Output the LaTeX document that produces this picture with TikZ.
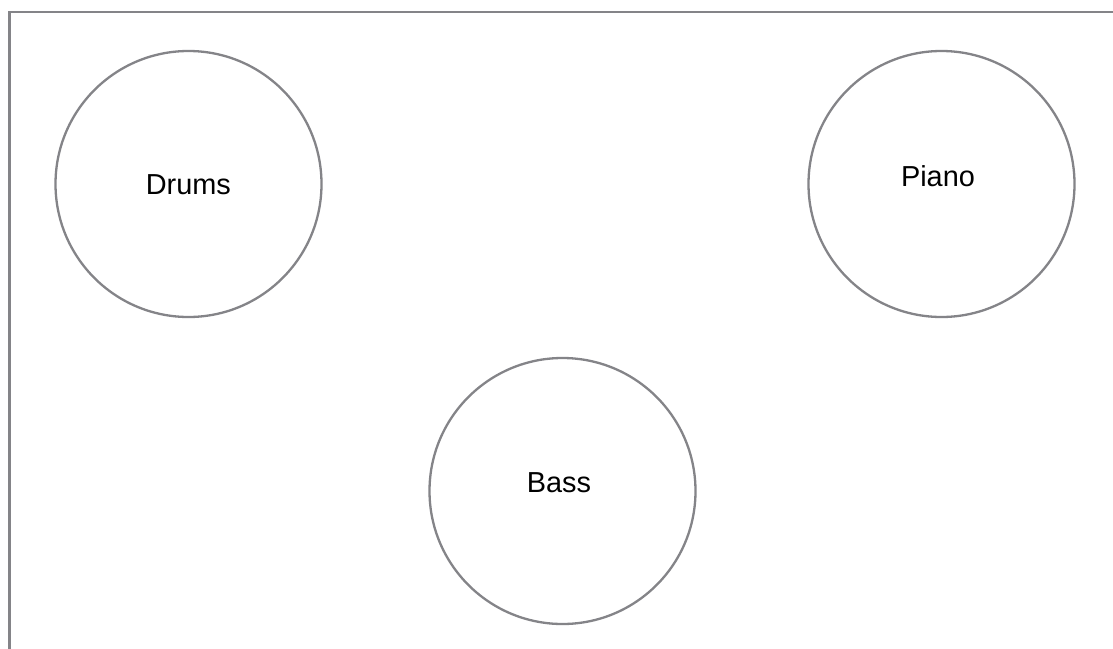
\documentclass[tikz,border=0pt]{standalone}
\usepackage{fontspec}
\setmainfont{Liberation Sans}
\definecolor{framegray}{RGB}{132,132,136}
\begin{document}
\begin{tikzpicture}[x=1pt,y=-1pt,
  ring/.style={circle,draw=framegray,line width=2.3pt,minimum size=266pt,inner sep=0pt,outer sep=0pt},
  lbl/.style={anchor=base,inner sep=0pt,font=\fontsize{28.9}{34}\selectfont,text=black}]
\useasboundingbox (0,0) rectangle (1113,648);
\clip (0,0) rectangle (1113,648);
\fill[white] (0,0) rectangle (1113,648);
\draw[framegray,line width=2.3pt] (9.5,670) -- (9.5,12) -- (1130,12);
\node[ring] (drums) at (188.5,184) {};
\node[ring] (piano) at (941.5,184) {};
\node[ring] (bass) at (562.5,491) {};
\node[lbl] (tdrums) at (188.4,194) {Drums};
\node[lbl] (tpiano) at (938,186) {Piano};
\node[lbl] (tbass) at (559,492.7) {Bass};
\end{tikzpicture}
\end{document}
